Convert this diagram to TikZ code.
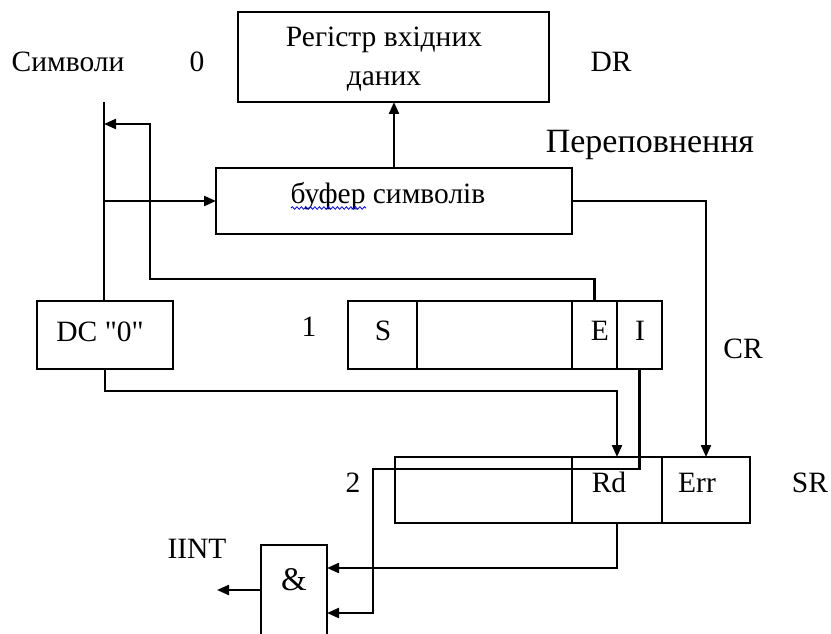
\documentclass[tikz,border=0pt]{standalone}
\usepackage{fontspec}
\setmainfont{Liberation Serif}[Ligatures=TeXOff]
\usetikzlibrary{arrows.meta,decorations.pathmorphing}
\begin{document}
\begin{tikzpicture}[x=1pt,y=-1pt, line width=2.2pt,
  box/.style={draw, rectangle, inner sep=0pt, outer sep=0pt, anchor=north west},
  lbl/.style={inner sep=0pt, anchor=base, font=\fontsize{29.5}{34}\selectfont},
  arr/.style={-{Triangle[length=12pt,width=10pt]}}]
\useasboundingbox (0,0) rectangle (831,634);
\clip (0,0) rectangle (831,634);

% boxes
\node[box, minimum width=311pt, minimum height=90pt] (dr) at (238,12) {};
\node[box, minimum width=356pt, minimum height=66pt] (buf) at (216,168) {};
\node[box, minimum width=136pt, minimum height=68pt] (dc) at (37,301) {};
\node[box, minimum width=69pt, minimum height=68pt] (s) at (348,301) {};
\node[box, minimum width=155pt, minimum height=68pt] (r1b) at (417,301) {};
\node[box, minimum width=45pt, minimum height=68pt] (e) at (572,301) {};
\node[box, minimum width=45pt, minimum height=68pt] (i) at (617,301) {};
\node[box, minimum width=177pt, minimum height=66pt] (r2b) at (395,457) {};
\node[box, minimum width=90pt, minimum height=66pt] (rd) at (572,457) {};
\node[box, minimum width=88pt, minimum height=66pt] (err) at (662,457) {};
\node[box, minimum width=66pt, minimum height=140pt] (and) at (261,545) {};

% texts
\node[lbl] (t1) at (68,72) {Символи};
\node[lbl] (t0) at (197,72) {0};
\node[lbl] (tdr) at (611,72) {DR};
\node[lbl] (tdr1) at (384,47) {Регістр вхідних};
\node[lbl] (tdr2) at (384,85) {даних};
\node[lbl, font=\fontsize{34}{38}\selectfont] (tover) at (650,152) {Переповнення};
\node[lbl] (tbuf) at (388,203) {буфер символів};
\node[lbl] (tdc) at (100,341) {DC "0"};
\node[lbl] (tone) at (309,336) {1};
\node[lbl] (ts) at (383,340) {S};
\node[lbl] (te) at (600,340) {E};
\node[lbl] (ti) at (640,340) {I};
\node[lbl] (tcr) at (743,358) {CR};
\node[lbl] (ttwo) at (353,492) {2};
\node[lbl] (trd) at (609,492) {Rd};
\node[lbl] (terr) at (697,492) {Err};
\node[lbl] (tsr) at (810,492) {SR};
\node[lbl] (tint) at (197,558) {IINT};
\node[lbl, font=\fontsize{33}{38}\selectfont] (tand) at (294,590) {\&};

% spell-check underline
\coordinate (w1) at (291,208);
\coordinate (w2) at (366,208);
\draw[blue, line width=0.8pt, decorate, decoration={snake, amplitude=1.3pt, segment length=4.5pt}] (w1) -- (w2);

% connectors
\coordinate (symtop) at (104,102);
\coordinate (fbk) at (150,124);
\coordinate (j1) at (373,469);
\coordinate (in1) at (327,568);
\coordinate (in2) at (327,613);
\coordinate (out) at (217,590);

\draw (symtop) -- (symtop |- dc.north);
\draw[arr] (symtop |- buf.west) -- (buf.west);
\draw[arr] (buf.north) -- (buf.north |- dr.south);
\draw[arr] (e.north) -- ++(0,-22) -| (fbk) -- (symtop |- fbk);
\draw[arr] (buf.east) -| (err.north);
\draw[arr] (dc.south) -- ++(0,22) -| (rd.north);
\draw[arr] (i.south) |- (j1) |- (in2);
\draw[arr] (rd.south) |- (in1);
\draw[arr] (and.west |- out) -- (out);
\end{tikzpicture}
\end{document}
